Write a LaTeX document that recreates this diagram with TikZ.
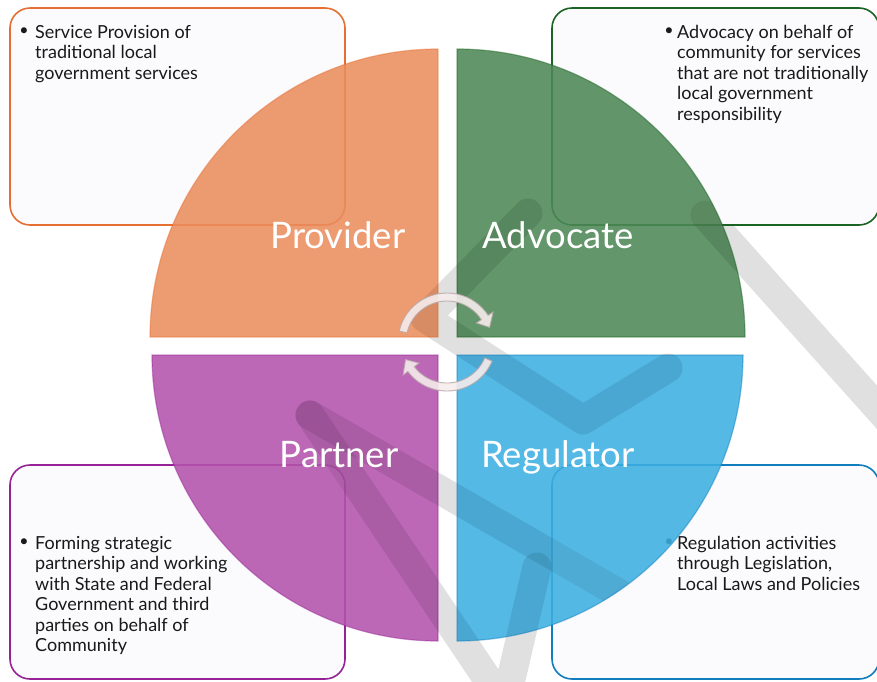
\documentclass[tikz,border=0pt]{standalone}
\usepackage{fontspec}
\setmainfont{Lato}
\usetikzlibrary{positioning}

\definecolor{provorange}{RGB}{235,141,93}
\definecolor{advgreen}{RGB}{77,136,85}
\definecolor{partpurple}{RGB}{179,83,172}
\definecolor{regblue}{RGB}{61,175,226}
\definecolor{provedge}{RGB}{230,110,50}
\definecolor{advedge}{RGB}{25,100,35}
\definecolor{partedge}{RGB}{150,35,150}
\definecolor{regedge}{RGB}{15,125,190}
\definecolor{boxfill}{RGB}{251,250,253}
\definecolor{boxtxt}{RGB}{25,25,25}
\definecolor{arrowfill}{RGB}{246,236,236}
\definecolor{arrowedge}{RGB}{185,170,170}

\tikzset{
  rolebox/.style={draw, line width=1.6pt, rounded corners=20pt, fill=boxfill},
  sector/.style={fill opacity=0.88, draw opacity=0.45, line width=1.2pt},
  rolelabel/.style={text=white, font=\fontsize{36.5}{40}\selectfont, inner sep=0pt, anchor=base},
  boxtext/.style={text=boxtxt, font=\fontsize{18}{20.5}\selectfont, align=left, anchor=north west, inner sep=0pt},
  bulletmark/.style={text=boxtxt, font=\fontsize{16}{20.5}\selectfont, inner sep=0pt},
  wmark/.style={line width=29pt, black, opacity=0.12, line cap=round, line join=round},
  cyclearrow/.style={fill=arrowfill, draw=arrowedge, line width=0.9pt, opacity=0.9}
}

% grey logo bands behind the chart
\newcommand{\drawwmark}{%
  \draw[wmark] (705,215) -- (900,433);
  \draw[wmark] (528,213) -- (425,318) -- (583,420) -- (668,368);
  \draw[wmark] (310,415) -- (505,705) -- (537,567);
  \draw[wmark] (310,415) -- (686,632);
}

\begin{document}
\begin{tikzpicture}[x=1pt,y=-1pt]
\useasboundingbox (0,0) rectangle (877,681);

\coordinate (Pv) at (438,337);
\coordinate (Ad) at (457,337);
\coordinate (Pt) at (438,355);
\coordinate (Rg) at (457,355);
\coordinate (mid) at (447,342);

\drawwmark

% text boxes
\draw[rolebox, draw=provedge] (10,8) rectangle (345,225);
\draw[rolebox, draw=advedge] (552,8) rectangle (879,225);
\draw[rolebox, draw=partedge] (10,465) rectangle (345,679);
\draw[rolebox, draw=regedge] (552,465) rectangle (879,679);

\node[bulletmark] (b1) at (24,32) {\textbullet};
\node[boxtext] (t1) at (35,25) {Service Provision of\\traditional local\\government services};
\node[bulletmark] (b2) at (669,32) {\textbullet};
\node[boxtext] (t2) at (677,25) {Advocacy on behalf of\\community for services\\that are not traditionally\\local government\\responsibility};
\node[bulletmark] (b3) at (24,543) {\textbullet};
\node[boxtext] (t3) at (35,536) {Forming strategic\\partnership and working\\with State and Federal\\Government and third\\parties on behalf of\\Community};
\node[bulletmark] (b4) at (669,543) {\textbullet};
\node[boxtext] (t4) at (677,536) {Regulation activities\\through Legislation,\\Local Laws and Policies};

% quarter circles
\draw[sector, fill=provorange, draw=provedge] (Pv) -- ++(-288,0) arc (180:270:288) -- cycle;
\draw[sector, fill=advgreen, draw=advedge] (Ad) -- ++(288,0) arc (0:-90:288) -- cycle;
\draw[sector, fill=partpurple, draw=partedge] (Pt) -- ++(-286,0) arc (180:90:286) -- cycle;
\draw[sector, fill=regblue, draw=regedge] (Rg) -- ++(286,0) arc (0:90:286) -- cycle;

\begin{scope}[opacity=0.55]
  \clip (Pv) -- ++(-288,0) arc (180:270:288) -- cycle
        (Ad) -- ++(288,0) arc (0:-90:288) -- cycle
        (Pt) -- ++(-286,0) arc (180:90:286) -- cycle
        (Rg) -- ++(286,0) arc (0:90:286) -- cycle;
  \tikzset{wmark/.append style={opacity=0.07}}
  \drawwmark
\end{scope}

\node[rolelabel] (provider) at (338,248) {Provider};
\node[rolelabel] (advocate) at (558,248) {Advocate};
\node[rolelabel] (partner) at (339,467) {Partner};
\node[rolelabel] (regulator) at (558,467) {Regulator};

% cycle arrows
\path[cyclearrow] ([shift={(mid)}]193:49) arc (193:327:49)
  -- ([shift={(mid)}]327:55) -- ([shift={(mid)}]341:45)
  -- ([shift={(mid)}]327:35) -- ([shift={(mid)}]327:41)
  arc (327:193:41) -- cycle;
\path[cyclearrow] ([shift={(mid)}]23:49) arc (23:143:49)
  -- ([shift={(mid)}]143:55) -- ([shift={(mid)}]157:45)
  -- ([shift={(mid)}]143:35) -- ([shift={(mid)}]143:41)
  arc (143:23:41) -- cycle;
\end{tikzpicture}
\end{document}
